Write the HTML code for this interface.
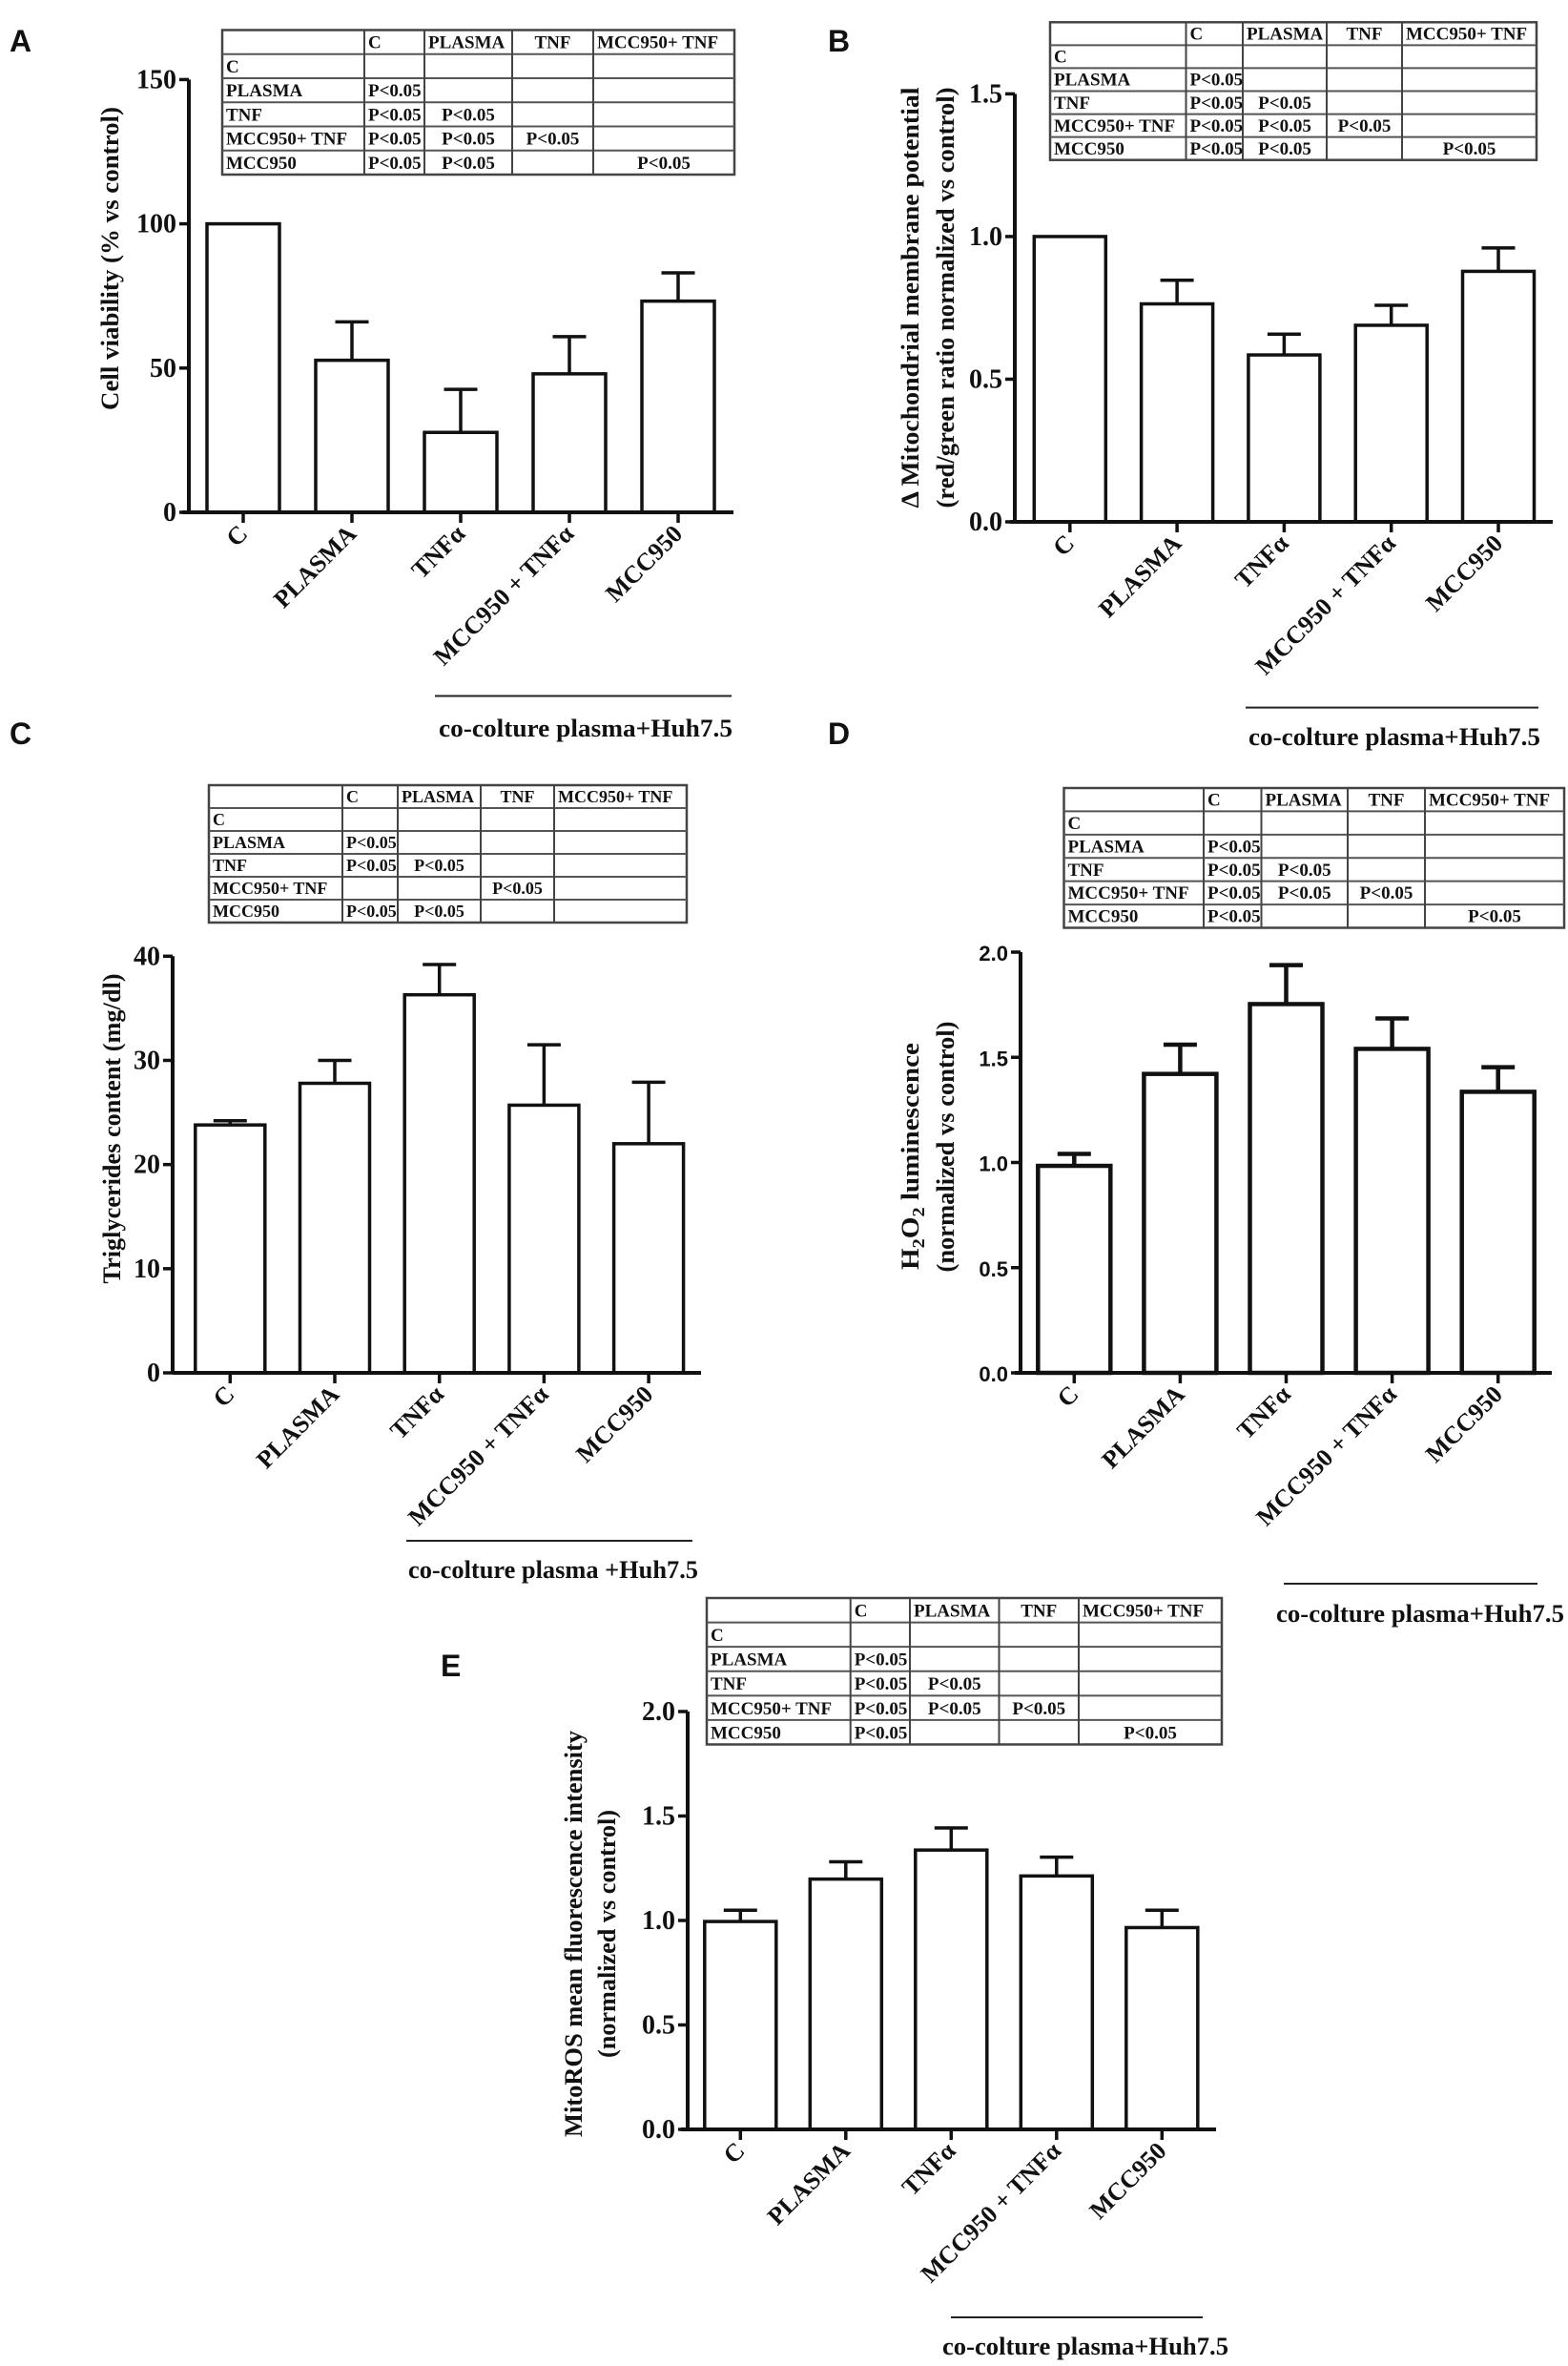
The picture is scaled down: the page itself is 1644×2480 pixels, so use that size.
<!DOCTYPE html>
<html><head><meta charset="utf-8"><style>
html,body{margin:0;padding:0;background:#fff}
svg{display:block}
text{font-family:"Liberation Serif",serif;font-weight:bold;fill:#111}
.sans{font-family:"Liberation Sans",sans-serif}
</style></head><body>
<svg id="fig" width="1644" height="2480" viewBox="0 0 1644 2480" xmlns="http://www.w3.org/2000/svg"></svg>
<script>
const categories = ["C","PLASMA","TNFα","MCC950 + TNFα","MCC950"];
const meansA = [100,52.7,27.7,48,73.2];
const semA = [0,13.3,14.9,12.9,9.8];
const ticksA = ["0","50","100","150"];
const meansB = [1.0,0.764,0.585,0.689,0.878];
const semB = [0,0.083,0.073,0.07,0.082];
const ticksB = ["0.0","0.5","1.0","1.5"];
const meansC = [23.8,27.8,36.3,25.7,22.0];
const semC = [0.4,2.2,2.9,5.8,5.9];
const ticksC = ["0","10","20","30","40"];
const meansD = [0.984,1.421,1.753,1.54,1.336];
const semD = [0.057,0.139,0.185,0.145,0.117];
const ticksD = ["0.0","0.5","1.0","1.5","2.0"];
const meansE = [0.995,1.198,1.337,1.213,0.966];
const semE = [0.054,0.083,0.106,0.09,0.083];
const ticksE = ["0.0","0.5","1.0","1.5","2.0"];
const tableHeaders = ["","C","PLASMA","TNF","MCC950+ TNF"];
const tableRows = ["C","PLASMA","TNF","MCC950+ TNF","MCC950"];
const P = "P<0.05";
const cellsAB = [["","","",""],[P,"","",""],[P,P,"",""],[P,P,P,""],[P,P,"",P]];
const cellsC = [["","","",""],[P,"","",""],[P,P,"",""],["","",P,""],[P,P,"",""]];
const cellsDE = [["","","",""],[P,"","",""],[P,P,"",""],[P,P,P,""],[P,"","",P]];

const NS="http://www.w3.org/2000/svg";
const svg=document.getElementById('fig');
function mk(tag,attrs,parent){const e=document.createElementNS(NS,tag);for(const k in attrs)e.setAttribute(k,attrs[k]);(parent||svg).appendChild(e);return e;}

function panel(p){
  const g=mk('g',{});
  
  
  const vmax=parseFloat(p.ticks[p.ticks.length-1]);
  const yS=v=>p.y0-(v/vmax)*(p.y0-p.yTop);
  const xS=i=>p.c0+i*p.pitch;
  const sw=p.sw||3.5;
  const L=mk('text',{x:p.lx,y:p.ly,class:'sans','font-size':32},g);L.textContent=p.id;
  
  
  p.means.forEach((m,i)=>{
    const cx=xS(i),top=yS(m);
    const r=mk('rect',{x:cx-p.bw/2,y:top,width:p.bw,height:p.y0-top,fill:'#fff',stroke:'#111','stroke-width':sw},g);
    
    
    if(p.sem[i]>0){
      const et=yS(m+p.sem[i]);
      const e=mk('path',{d:`M${cx},${top} V${et} M${cx-17.5},${et} H${cx+17.5}`,stroke:'#111','stroke-width':sw,fill:'none'},g);
      
      
    }
  });
  const ax=mk('path',{d:`M${p.x0},${p.yTop} V${p.y0} M${p.axL},${p.y0} H${p.axR}`,stroke:'#111','stroke-width':4,fill:'none'},g);
  
  
  p.ticks.forEach(t=>{
    const y=yS(parseFloat(t));
    mk('line',{x1:p.x0-10,x2:p.x0,y1:y,y2:y,stroke:'#111','stroke-width':3.5},g);
    const tx=mk('text',{x:p.x0-13,y:y+9,'text-anchor':'end','font-size':p.tickSans?22:28,class:p.tickSans?'sans':''},g);
    tx.textContent=t;
    
    
  });
  categories.forEach((c,i)=>{
    const cx=xS(i);
    mk('line',{x1:cx,x2:cx,y1:p.y0,y2:p.y0+11,stroke:'#111','stroke-width':3.5},g);
    const tx=mk('text',{x:cx+6,y:p.y0+24,'text-anchor':'end','font-size':26,transform:`rotate(-45 ${cx+6} ${p.y0+24})`},g);
    tx.textContent=c;
    
    
  });
  p.titles.forEach(t=>{
    const tx=mk('text',{x:t.x,y:t.y,'text-anchor':'middle','font-size':26,textLength:t.len,lengthAdjust:'spacingAndGlyphs',transform:`rotate(-90 ${t.x} ${t.y})`},g);
    if(t.h2o2){tx.innerHTML='H<tspan font-size="18" dy="6">2</tspan><tspan dy="-6">O</tspan><tspan font-size="18" dy="6">2</tspan><tspan dy="-6"> luminescence</tspan>';}
    else tx.textContent=t.s;
    
    
  });
  const cl=mk('line',{x1:p.cl[0],x2:p.cl[1],y1:p.cl[2],y2:p.cl[2],stroke:'#222','stroke-width':2},g);
  
  
  const ct=mk('text',{x:p.ct[0],y:p.ct[1],'font-size':26,textLength:p.ct[2],lengthAdjust:'spacingAndGlyphs'},g);
  ct.textContent=p.ctText||'co-colture plasma+Huh7.5';
  
  
  const tg=mk('g',{},g);
  
  
  const T=p.table, rh=(T.y1-T.y0)/6, cols=[T.x0].concat(T.cols).concat([T.x1]);
  mk('rect',{x:T.x0,y:T.y0,width:T.x1-T.x0,height:T.y1-T.y0,fill:'none',stroke:'#444','stroke-width':2.5},tg);
  for(let r=1;r<6;r++)mk('line',{x1:T.x0,x2:T.x1,y1:T.y0+r*rh,y2:T.y0+r*rh,stroke:'#555','stroke-width':2},tg);
  T.cols.forEach(c=>mk('line',{x1:c,x2:c,y1:T.y0,y2:T.y1,stroke:'#444','stroke-width':2},tg));
  const fs=T.fs||19;
  const put=(s,ci,ri)=>{
    if(!s)return;
    const a=cols[ci],b=cols[ci+1];
    const left=(ci<=1)||(ci===4&&ri===0)||(ci===2&&ri===0);
    const t=mk('text',{x:left?a+4:(a+b)/2,y:T.y0+ri*rh+rh*0.76,'font-size':fs,'text-anchor':left?'start':'middle'},tg);
    t.textContent=s;
    
    
  };
  tableHeaders.forEach((h,ci)=>put(h,ci,0));
  tableRows.forEach((r,ri)=>{put(r,0,ri+1);T.cells[ri].forEach((c,ci)=>put(c,ci+1,ri+1));});
}

panel({id:'A',lx:10,ly:54,means:meansA,sem:semA,ticks:ticksA,x0:198,y0:537,yTop:83.4,axL:191,axR:769,c0:255,pitch:114,bw:76,
  titles:[{s:'Cell viability (% vs control)',x:124,y:271,len:318}],
  cl:[456,767,729.5],ct:[460,772,308],
  table:{x0:233,x1:770,y0:31.5,y1:183,cols:[382,445,537,622],cells:cellsAB}});
panel({id:'B',lx:868,ly:54,means:meansB,sem:semB,ticks:ticksB,x0:1064,y0:547,yTop:98.4,axL:1059,axR:1628,c0:1121.8,pitch:112.3,bw:75,
  titles:[{s:'Δ Mitochondrial membrane potential',x:963,y:312,len:441},{s:'(red/green ratio normalized vs control)',x:1000,y:312,len:441}],
  cl:[1306,1613,741.6],ct:[1309,781,306],
  table:{x0:1101,x1:1611,y0:23.3,y1:167.7,cols:[1243.5,1303,1391,1470],cells:cellsAB}});
panel({id:'C',lx:10,ly:780,means:meansC,sem:semC,ticks:ticksC,x0:181,y0:1439,yTop:1002.3,axL:181,axR:735,c0:241.3,pitch:109.7,bw:73,
  titles:[{s:'Triglycerides content (mg/dl)',x:126,y:1183,len:325}],
  cl:[426,726,1615],ct:[428,1654,304],ctText:'co-colture plasma +Huh7.5',
  table:{x0:219,x1:720,y0:823,y1:967,cols:[359,417,504,581],cells:cellsC,fs:18}});
panel({id:'D',lx:868,ly:780,means:meansD,sem:semD,ticks:ticksD,tickSans:true,sw:4.5,x0:1070,y0:1439,yTop:998,axL:1064,axR:1627,c0:1126.3,pitch:111.1,bw:76,
  titles:[{s:'',h2o2:true,x:963,y:1212,len:238},{s:'(normalized vs control)',x:1000,y:1202,len:263}],
  cl:[1346,1612,1660],ct:[1338,1700,302],
  table:{x0:1115.5,x1:1640,y0:826,y1:972.5,cols:[1262,1322.5,1413,1494],cells:cellsDE}});
panel({id:'E',lx:462,ly:1757,means:meansE,sem:semE,ticks:ticksE,x0:721,y0:2232,yTop:1794,axL:714,axR:1275,c0:776.3,pitch:110.5,bw:75,
  titles:[{s:'MitoROS mean fluorescence intensity',x:610,y:2027,len:426},{s:'(normalized vs control)',x:645,y:2027,len:260}],
  cl:[997,1261,2429],ct:[988,2468,300],
  table:{x0:741,x1:1281,y0:1675,y1:1828.5,cols:[891.7,954,1047.5,1131],cells:cellsDE}});
</script>
</body></html>
